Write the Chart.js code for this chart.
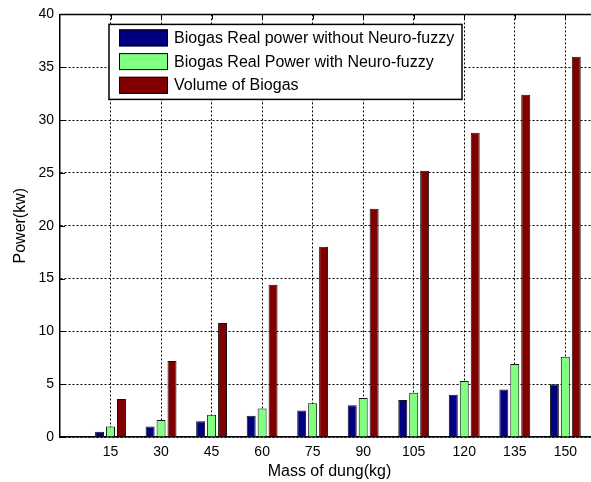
<!DOCTYPE html>
<html>
<head>
<meta charset="utf-8">
<script src="https://cdn.jsdelivr.net/npm/chart.js@4.4.1/dist/chart.umd.min.js"></script>
<style>
    html, body { margin: 0; padding: 0; background: #fff; overflow: hidden; }
    #wrap { width: 591px; height: 482px; overflow: hidden; }
    canvas { display: block; }
</style>
</head>
<body>
<div id="wrap"><canvas id="biogasChart" width="602" height="482"></canvas></div>
<script>
// Data
const massLabels = [15, 30, 45, 60, 75, 90, 105, 120, 135, 150];
const powerWithoutNF = [0.5, 1.0, 1.5, 2.0, 2.5, 3.0, 3.5, 4.0, 4.5, 5.0];
const powerWithNF = [1.0, 1.6, 2.1, 2.7, 3.2, 3.7, 4.2, 5.3, 6.9, 7.6];
const biogasVolume = [3.6, 7.2, 10.8, 14.4, 18.0, 21.6, 25.2, 28.8, 32.4, 36.0];
const yTicks = [0, 5, 10, 15, 20, 25, 30, 35, 40];

const FONT = "'Liberation Sans', Arial, sans-serif";

function toPoints(values) {
    return massLabels.map((m, i) => ({ x: m, y: values[i] }));
}

// MATLAB style frame: top line, inward tick marks
const frameTicks = {
    id: 'frameTicks',
    beforeDatasetsDraw(chart) {
        const { ctx, chartArea: a, scales: { x, y } } = chart;
        ctx.save();
        ctx.strokeStyle = '#000';
        ctx.lineWidth = 1;
        ctx.beginPath();
        massLabels.forEach(m => {
            const px = Math.round(x.getPixelForValue(m)) + 0.5;
            ctx.moveTo(px, a.bottom);
            ctx.lineTo(px, a.bottom - 5);
            ctx.moveTo(px, a.top);
            ctx.lineTo(px, a.top + 5);
        });
        yTicks.forEach(v => {
            const py = Math.round(y.getPixelForValue(v)) + 0.5;
            ctx.moveTo(a.left, py);
            ctx.lineTo(a.left + 5, py);
        });
        ctx.stroke();
        ctx.lineWidth = 1.5;
        ctx.beginPath();
        ctx.moveTo(a.left, a.top);
        ctx.lineTo(a.right, a.top);
        ctx.stroke();
        ctx.restore();
    }
};

// Boxed legend inside the axes, upper left
const boxLegend = {
    id: 'boxLegend',
    afterDatasetsDraw(chart) {
        const { ctx, chartArea: a } = chart;
        const left = a.left + 49, top = a.top + 10;
        const w = 353, h = 75;
        ctx.save();
        ctx.fillStyle = '#fff';
        ctx.fillRect(left, top, w, h);
        ctx.strokeStyle = '#000';
        ctx.lineWidth = 1.5;
        ctx.strokeRect(left, top, w, h);
        ctx.font = '16px ' + FONT;
        ctx.textBaseline = 'middle';
        chart.data.datasets.forEach((ds, i) => {
            const rowY = top + 5 + i * 23.7;
            ctx.fillStyle = ds.backgroundColor;
            ctx.fillRect(left + 10, rowY, 49, 17);
            ctx.lineWidth = 1;
            ctx.strokeStyle = '#000';
            ctx.strokeRect(left + 10.5, rowY + 0.5, 48, 16);
            ctx.fillStyle = '#000';
            ctx.fillText(ds.label, left + 65, rowY + 9);
        });
        ctx.restore();
    }
};

const ctx = document.getElementById('biogasChart').getContext('2d');

new Chart(ctx, {
    type: 'bar',
    data: {
        datasets: [{
            label: 'Biogas Real power without Neuro-fuzzy',
            data: toPoints(powerWithoutNF),
            backgroundColor: '#000080',
            borderColor: '#111',
            borderWidth: 1
        }, {
            label: 'Biogas Real Power with Neuro-fuzzy',
            data: toPoints(powerWithNF),
            backgroundColor: '#80FF80',
            borderColor: '#111',
            borderWidth: 1
        }, {
            label: 'Volume of Biogas',
            data: toPoints(biogasVolume),
            backgroundColor: '#800000',
            borderColor: '#111',
            borderWidth: 1
        }]
    },
    options: {
        responsive: false,
        animation: false,
        layout: { padding: { top: 14, right: 3, left: 0, bottom: 0 } },
        datasets: {
            bar: { categoryPercentage: 0.65, barPercentage: 0.82 }
        },
        plugins: {
            legend: { display: false },
            tooltip: { enabled: false }
        },
        scales: {
            x: {
                type: 'linear',
                min: 0,
                max: 160,
                offset: false,
                afterBuildTicks: scale => {
                    scale.ticks = massLabels.map(v => ({ value: v }));
                },
                afterFit: scale => { scale.height = 45; },
                grid: {
                    offset: false,
                    color: '#000',
                    lineWidth: 1,
                    drawTicks: false
                },
                border: { display: true, color: '#000', width: 1.5, dash: [2, 2] },
                ticks: {
                    color: '#000',
                    padding: 7,
                    maxRotation: 0,
                    font: { family: FONT, size: 14 }
                },
                title: {
                    display: true,
                    text: 'Mass of dung(kg)',
                    color: '#000',
                    padding: { top: 0, bottom: 1 },
                    font: { family: FONT, size: 16 }
                }
            },
            y: {
                min: 0,
                max: 40,
                afterBuildTicks: scale => {
                    scale.ticks = yTicks.map(v => ({ value: v }));
                },
                afterFit: scale => { scale.width = 60; },
                grid: {
                    color: '#000',
                    lineWidth: 1,
                    drawTicks: false
                },
                border: { display: true, color: '#000', width: 1.5, dash: [2, 2] },
                ticks: {
                    color: '#000',
                    padding: 6,
                    font: { family: FONT, size: 14 }
                },
                title: {
                    display: true,
                    text: 'Power(kw)',
                    color: '#000',
                    padding: { top: 11, bottom: 0 },
                    font: { family: FONT, size: 16 }
                }
            }
        }
    },
    plugins: [frameTicks, boxLegend]
});
</script>
</body>
</html>
